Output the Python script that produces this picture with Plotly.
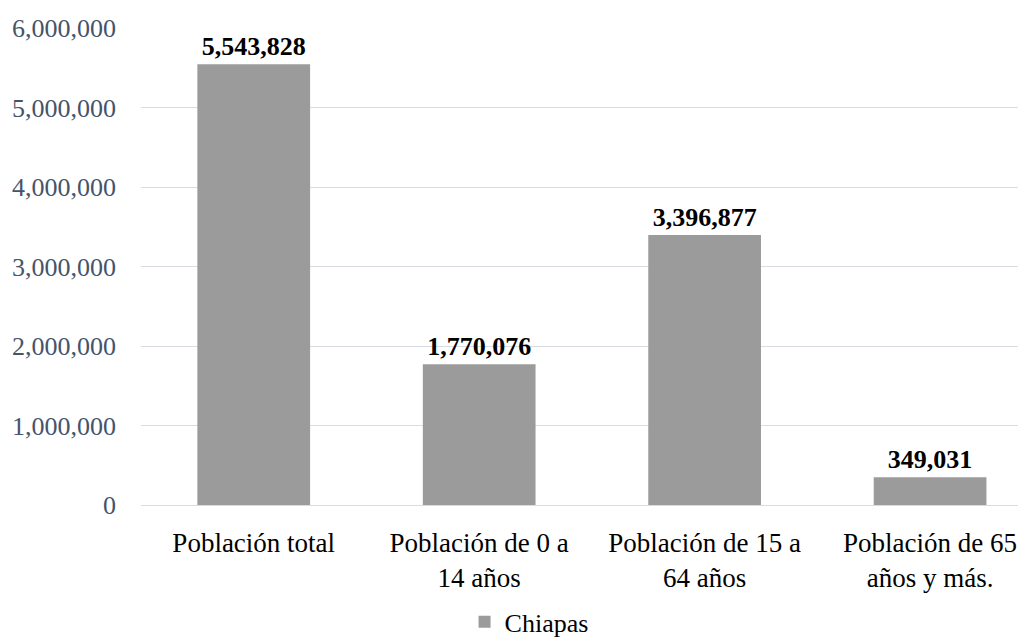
import plotly.graph_objects as go

categories = ["Población total", "Población de 0 a<br>14 años", "Población de 15 a<br>64 años", "Población de 65<br>años y más."]
values = [5543828, 1770076, 3396877, 349031]
series_name = "Chiapas"
y_ticks = [0, 1000000, 2000000, 3000000, 4000000, 5000000, 6000000]
y_tick_labels = ["0", "1,000,000", "2,000,000", "3,000,000", "4,000,000", "5,000,000", "6,000,000"]

font = "Liberation Serif, Times New Roman, serif"

fig = go.Figure()
fig.add_trace(go.Bar(
    x=categories, y=values, name=series_name,
    marker=dict(color="#9b9b9b", line=dict(width=0)),
    width=0.5,
    text=[f"{v:,}" for v in values],
    textposition="outside",
    textfont=dict(family=font, size=26, color="black", weight="bold"),
    cliponaxis=False,
    showlegend=True,
))

fig.update_layout(
    width=1026, height=640,
    margin=dict(l=133, r=16, t=20, b=143, autoexpand=False),
    paper_bgcolor="white", plot_bgcolor="white",
    font=dict(family=font, size=26, color="black"),
    xaxis=dict(range=[-0.5, 3.39], showgrid=False, showline=False, ticks="",
               automargin=False, ticklabelstandoff=19,
               tickfont=dict(family=font, size=27, color="black")),
    yaxis=dict(range=[0, 6000000], tickvals=y_ticks, ticktext=y_tick_labels,
               showgrid=True, gridcolor="#d9dde3", gridwidth=1,
               zeroline=True, zerolinecolor="#d9dde3", zerolinewidth=1,
               automargin=False,
               tickfont=dict(family=font, size=26, color="#44546a"),
               ticks="", ticklabelstandoff=24),
    showlegend=True,
    legend=dict(orientation="h", xref="container", yref="container",
                x=0.445, xanchor="left", y=0.041, yanchor="middle",
                itemwidth=30, borderwidth=0,
                font=dict(family=font, size=26, color="black")),
)

fig.write_html("out.html")
